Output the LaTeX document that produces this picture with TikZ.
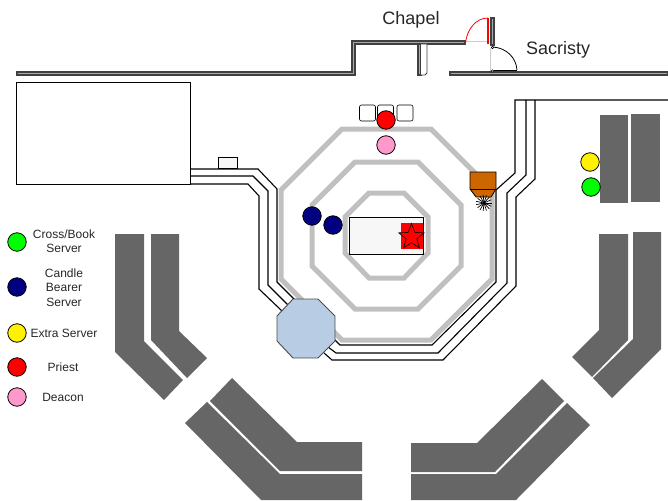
\documentclass[tikz,border=0pt]{standalone}
\usepackage{fontspec}
\setmainfont{Liberation Sans}
\usetikzlibrary{shapes.geometric}
\definecolor{wallgray}{HTML}{A8A8A8}
\definecolor{pewgray}{HTML}{666666}
\definecolor{ringgray}{HTML}{C0C0C0}
\definecolor{fontblue}{HTML}{B8CCE4}
\definecolor{cresbrown}{HTML}{CC6600}
\definecolor{navyblue}{HTML}{000080}
\definecolor{pinkrole}{HTML}{FF99CC}
\definecolor{altarwhite}{HTML}{F7F7F7}
\tikzset{
  x=1pt,
  y=-1pt,
  person/.style={circle, draw=black, line width=0.8pt, minimum size=18.5pt, inner sep=0pt},
  legendtext/.style={font=\fontsize{12}{14.5}\selectfont, align=center, text=black!85},
  roomtext/.style={font=\fontsize{18}{20}\selectfont, text=black!85},
  ring/.style={draw=ringgray, line width=5pt, line join=miter},
  rail/.style={draw=black, line width=1.1pt},
  wall/.style={draw=black!75, fill=wallgray, line width=1.1pt},
  pew/.style={fill=pewgray, draw=none},
  chair/.style={draw=black, fill=white, line width=0.6pt, rounded corners=2pt},
}

\begin{document}
\begin{tikzpicture}
  \useasboundingbox (0,0) rectangle (668,500);

  % walls
  \draw[wall] (17,72) -- (352,72) -- (352,41) -- (465,41) -- (465,44) -- (355,44) -- (355,75) -- (17,75) -- cycle;
  \draw[wall] (418,44) -- (421,44) -- (421,75) -- (418,75) -- cycle;
  \draw[draw=black!75, fill=white, line width=0.9pt] (421,44) -- (427,44) -- (427,73) -- (425,75) -- (421,75);
  \draw[wall] (491,18) -- (494,18) -- (494,45) -- (491,45) -- cycle;
  \draw[wall] (450,72) -- (668,72) -- (668,75) -- (450,75) -- cycle;

  % doors
  \draw[black!20, line width=0.6pt] (466,41) -- (489,41);
  \draw[black!20, line width=0.6pt] (490.5,48) -- (490.5,71);
  \draw[red, line width=0.8pt] (465.5,43) .. controls (467,29) and (476,18) .. (488,18);
  \draw[red, line width=2.4pt] (488,18) -- (488,44);
  \draw[black, line width=0.8pt] (493,47) .. controls (506,48) and (516,57) .. (517,70);
  \draw[black, line width=1.6pt] (494,70.5) -- (517,70.5);
  \node[circle, draw=black, fill=white, line width=0.5pt, minimum size=2.5pt, inner sep=0pt] (hingetop) at (492.5,47.5) {};
  \node[circle, draw=black, fill=white, line width=0.5pt, minimum size=2.5pt, inner sep=0pt] (hingebot) at (492.5,71) {};

  % sanctuary steps
  \draw[ring] (342,129) -- (431,129) -- (492,190) -- (492,279) -- (431,340) -- (342,340) -- (281,279) -- (281,190) -- cycle;
  \draw[ring] (355,162) -- (418,162) -- (461,205) -- (461,266) -- (418,309) -- (355,309) -- (312,266) -- (312,205) -- cycle;
  \draw[ring] (369,193) -- (404,193) -- (428,217) -- (428,253) -- (404,278) -- (369,278) -- (345,253) -- (345,217) -- cycle;

  % rails
  \draw[rail] (190,169) -- (258,169) -- (277,189) -- (277,282) -- (296,301);
  \draw[rail] (190,176) -- (253,176) -- (268,191) -- (268,285) -- (288,305);
  \draw[rail] (190,184) -- (248,184) -- (259,196) -- (259,289) -- (282,311);
  \draw[rail] (332,337) -- (340,345) -- (432,345) -- (496,282) -- (496,190) -- (515,173) -- (515,100) -- (668,100);
  \draw[rail] (328,347) -- (336,353) -- (438,353) -- (507,283) -- (507,193) -- (526,175) -- (526,100);
  \draw[rail] (324,353) -- (332,360) -- (443,360) -- (516,286) -- (516,197) -- (535,179) -- (535,100);

  % sacristy side furniture
  \draw[draw=black, line width=0.9pt, fill=white] (16,82) rectangle (190,184);
  \draw[draw=black, line width=0.8pt, fill=altarwhite] (218,157) rectangle (237,168);

  % font
  \draw[draw=black!70, fill=fontblue, line width=0.9pt] (293,299) -- (318,299) -- (335,316) -- (335,341) -- (318,358) -- (293,358) -- (277,341) -- (277,316) -- cycle;

  % altar
  \draw[draw=black, fill=altarwhite, line width=0.9pt] (349,217) rectangle (423,254);
  \fill[red] (401,223) rectangle (423,249);
  \node[star, star points=5, star point ratio=2.4, draw=black, fill=red, line width=0.6pt, minimum size=27pt, inner sep=0pt] (altarstar) at (411.5,237) {};

  % credence
  \draw[draw=black, fill=cresbrown, line width=0.8pt] (470,172) -- (496,172) -- (496,189) -- (491,197) -- (476,197) -- (470,189) -- cycle;
  \draw[draw=black, line width=0.8pt] (470,189) -- (496,189);
  \foreach \ang in {0,24,...,336} {
    \draw[black, line width=0.7pt] (484,203) -- +(\ang:8);
  }

  % chairs
  \node[chair, minimum width=16pt, minimum height=16pt, inner sep=0pt] (chairleft) at (367.5,113) {};
  \node[chair, minimum width=16pt, minimum height=16pt, inner sep=0pt] (chairmid) at (385.5,113) {};
  \node[chair, minimum width=16pt, minimum height=16pt, inner sep=0pt] (chairright) at (405,113) {};

  % pews
  \fill[pew] (600,115) -- (628,115) -- (628,203) -- (600,203) -- cycle;
  \fill[pew] (631,114) -- (660,114) -- (660,202) -- (631,202) -- cycle;
  \fill[pew] (599,234) -- (628,234) -- (628,340) -- (592,377) -- (572,357) -- (599,330) -- cycle;
  \fill[pew] (633,232) -- (661,232) -- (661,349) -- (612,398) -- (593,378) -- (633,339) -- cycle;
  \fill[pew] (115,234) -- (144,234) -- (144,341) -- (183,380) -- (164,400) -- (115,352) -- cycle;
  \fill[pew] (151,234) -- (179,234) -- (179,331) -- (207,358) -- (187,378) -- (151,340) -- cycle;
  \fill[pew] (232,378) -- (297,442) -- (362,442) -- (362,471) -- (280,471) -- (210,401) -- cycle;
  \fill[pew] (207,402) -- (280,474) -- (362,474) -- (362,500) -- (261,500) -- (185,423) -- cycle;
  \fill[pew] (542,379) -- (564,401) -- (495,472) -- (411,472) -- (411,443) -- (477,443) -- cycle;
  \fill[pew] (567,403) -- (590,425) -- (516,500) -- (411,500) -- (411,474) -- (496,474) -- cycle;

  % people
  \node[person, fill=red]       (priest)   at (386,120) {};
  \node[person, fill=pinkrole]  (deacon)   at (386,145) {};
  \node[person, fill=navyblue]  (candlea)  at (312,216) {};
  \node[person, fill=navyblue]  (candleb)  at (333,225) {};
  \node[person, fill=yellow]    (extra)    at (590,162) {};
  \node[person, fill=green]     (crossbk)  at (591,187) {};

  % legend
  \node[person, fill=green]     (keycross)  at (17,242) {};
  \node[person, fill=navyblue]  (keycandle) at (17,287) {};
  \node[person, fill=yellow]    (keyextra)  at (17,333) {};
  \node[person, fill=red]       (keypriest) at (17,367) {};
  \node[person, fill=pinkrole]  (keydeacon) at (17,397) {};
  \node[legendtext] (txtcross)  at (64,241) {Cross/Book\\Server};
  \node[legendtext] (txtcandle) at (64,287.5) {Candle\\Bearer\\Server};
  \node[legendtext] (txtextra)  at (64,333) {Extra Server};
  \node[legendtext] (txtpriest) at (63,367) {Priest};
  \node[legendtext] (txtdeacon) at (63,397) {Deacon};

  \node[roomtext] (chapel)   at (411,20) {Chapel};
  \node[roomtext] (sacristy) at (558,50) {Sacristy};
\end{tikzpicture}
\end{document}
